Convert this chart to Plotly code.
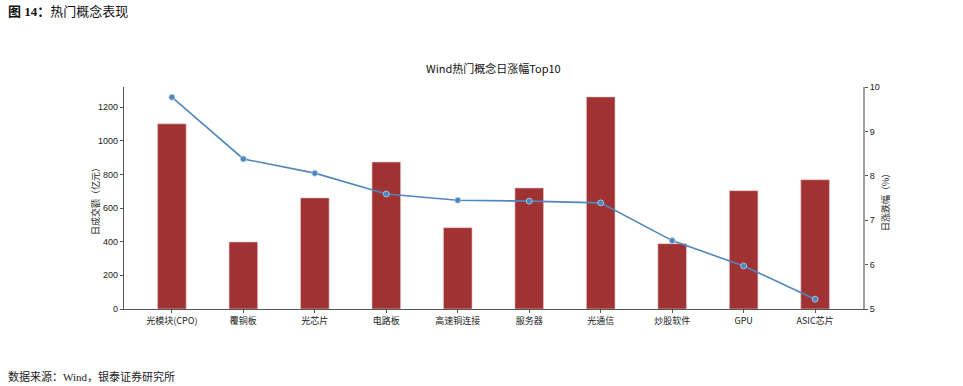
import plotly.graph_objects as go

categories = ["光模块(CPO)", "覆铜板", "光芯片", "电路板", "高速铜连接", "服务器", "光通信", "炒股软件", "GPU", "ASIC芯片"]
turnover = [1100, 398, 660, 873, 483, 719, 1260, 388, 703, 768]
pct_change = [9.77, 8.38, 8.06, 7.59, 7.45, 7.43, 7.39, 6.54, 5.97, 5.22]
left_ticks = [0, 200, 400, 600, 800, 1000, 1200]
right_ticks = [5, 6, 7, 8, 9, 10]

x_idx = list(range(len(categories)))
cjk = "Noto Sans CJK SC, sans-serif"

fig = go.Figure()
fig.add_trace(go.Bar(
    x=x_idx, y=turnover, width=0.4,
    marker=dict(color="#A03234", line=dict(color="#E8C8C8", width=0.6)),
    yaxis="y", showlegend=False,
))
fig.add_trace(go.Scatter(
    x=x_idx, y=pct_change, mode="lines+markers",
    line=dict(color="#4F87BD", width=1.6),
    marker=dict(size=6, color="#4F87BD", line=dict(color="#B9D0E6", width=0.8)),
    yaxis="y2", showlegend=False,
))

fig.update_layout(
    width=963, height=386,
    margin=dict(l=124, r=100, t=87, b=77),
    paper_bgcolor="white", plot_bgcolor="white",
    bargap=0.6,
    xaxis=dict(
        range=[-0.67, 9.67], tickmode="array", tickvals=x_idx, ticktext=categories,
        showline=True, linecolor="#555555", linewidth=1.2,
        ticks="outside", ticklen=3, tickcolor="#555555",
        tickfont=dict(family=cjk, size=9, color="#222222"),
        showgrid=False, zeroline=False,
    ),
    yaxis=dict(
        range=[0, 1319], tickmode="array", tickvals=left_ticks,
        showline=True, linecolor="#555555", linewidth=1.2,
        ticks="outside", ticklen=3, tickcolor="#555555",
        tickfont=dict(family="Liberation Sans, Arial, sans-serif", size=9, color="#222222"),
        showgrid=False, zeroline=False,
    ),
    yaxis2=dict(
        range=[5, 10], tickmode="array", tickvals=right_ticks, overlaying="y", side="right",
        showline=True, linecolor="#A0A0A0", linewidth=2,
        ticks="outside", ticklen=3, tickcolor="#555555",
        tickfont=dict(family="Liberation Sans, Arial, sans-serif", size=9, color="#222222"),
        showgrid=False, zeroline=False,
    ),
    annotations=[
        dict(text="Wind热门概念日涨幅Top10", xref="paper", yref="paper",
             x=(493 - 124) / 739, y=(309 - 68) / 222, xanchor="center", yanchor="middle",
             showarrow=False, font=dict(family=cjk, size=11, color="#111111")),
        dict(text="日成交额（亿元）", xref="paper", yref="paper", textangle=-90,
             x=(95 - 124) / 739, y=(309 - 199) / 222, xanchor="center", yanchor="middle",
             showarrow=False, font=dict(family=cjk, size=9, color="#222222")),
        dict(text="日涨跌幅（%）", xref="paper", yref="paper", textangle=-90,
             x=(885 - 124) / 739, y=(309 - 200) / 222, xanchor="center", yanchor="middle",
             showarrow=False, font=dict(family=cjk, size=9, color="#222222")),
        dict(text="<b>图 14：</b>热门概念表现", xref="paper", yref="paper",
             x=(6 - 124) / 739, y=(309 - 12) / 222, xanchor="left", yanchor="middle",
             showarrow=False, font=dict(family="Liberation Serif, Noto Sans CJK SC, serif", size=13, color="#111111")),
        dict(text="数据来源：Wind，银泰证券研究所", xref="paper", yref="paper",
             x=(6 - 124) / 739, y=(309 - 376) / 222, xanchor="left", yanchor="middle",
             showarrow=False, font=dict(family="Liberation Serif, Noto Sans CJK SC, serif", size=11, color="#222222")),
    ],
)

fig.write_html("out.html")
